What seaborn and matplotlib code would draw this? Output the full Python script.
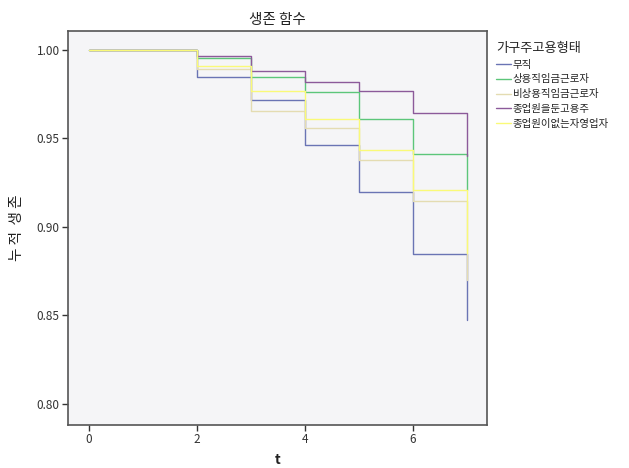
import pandas as pd
import seaborn as sns
import matplotlib.pyplot as plt

# Kaplan-Meier step values
times = [0, 2, 3, 4, 5, 6, 7]
groups = ['무직', '상용직임금근로자', '비상용직임금근로자', '종업원을둔고용주', '종업원이없는자영업자']
surv_none = [1.0, 0.9846, 0.9714, 0.9461, 0.9194, 0.8846, 0.8475]
surv_regular = [1.0, 0.9953, 0.9849, 0.9759, 0.9610, 0.9409, 0.9210]
surv_nonregular = [1.0, 0.9890, 0.9657, 0.9558, 0.9375, 0.9143, 0.8700]
surv_employer = [1.0, 0.9966, 0.9883, 0.9819, 0.9770, 0.9642, 0.9400]
surv_selfemp = [1.0, 0.9906, 0.9768, 0.9608, 0.9435, 0.9209, 0.8850]
colors = ['#6a74b4', '#5cc67a', '#e4dcb2', '#8c5a9a', '#fafa78']

series = [surv_none, surv_regular, surv_nonregular, surv_employer, surv_selfemp]
df = pd.concat([pd.DataFrame({'t': times, 'surv': s, 'group': g})
                for g, s in zip(groups, series)], ignore_index=True)

sns.set_style('white')
plt.rcParams['font.family'] = ['Noto Sans CJK KR', 'DejaVu Sans']

fig = plt.figure(figsize=(6.29, 4.68), dpi=100)
ax = fig.add_axes([0.108, 0.092, 0.666, 0.842])
ax.set_facecolor('#f5f5f7')

sns.lineplot(data=df, x='t', y='surv', hue='group', hue_order=groups,
             palette=colors, drawstyle='steps-post', linewidth=1.0,
             estimator=None, ax=ax)

ax.set_xlim(-0.39, 7.37)
ax.set_ylim(0.788, 1.0107)
ax.set_xticks([0, 2, 4, 6])
ax.set_yticks([0.80, 0.85, 0.90, 0.95, 1.00])
ax.set_yticklabels(['0.80', '0.85', '0.90', '0.95', '1.00'])
ax.tick_params(axis='both', direction='out', length=4, width=1, color='#333333',
               labelsize=8.5, labelcolor='#333333', bottom=True, left=True, pad=2)
for sp in ax.spines.values():
    sp.set_color('#555555')
    sp.set_linewidth(1.2)

ax.set_title('생존 함수', fontsize=10.5, color='#222222', pad=5)
ax.set_xlabel('t', fontsize=10, fontweight='bold', color='#222222', labelpad=5)
ax.set_ylabel('누 적  생 존', fontsize=10.5, color='#222222', labelpad=9)

leg = ax.legend(title='가구주고용형태', loc='upper left', bbox_to_anchor=(1.005, 0.99),
                frameon=False, fontsize=7.5, title_fontsize=9.5,
                handlelength=1.4, handletextpad=0.2, labelspacing=0.45,
                alignment='left', borderaxespad=0.3)
for t in leg.get_texts():
    t.set_color('#222222')

fig.savefig('out.png', dpi=100)
